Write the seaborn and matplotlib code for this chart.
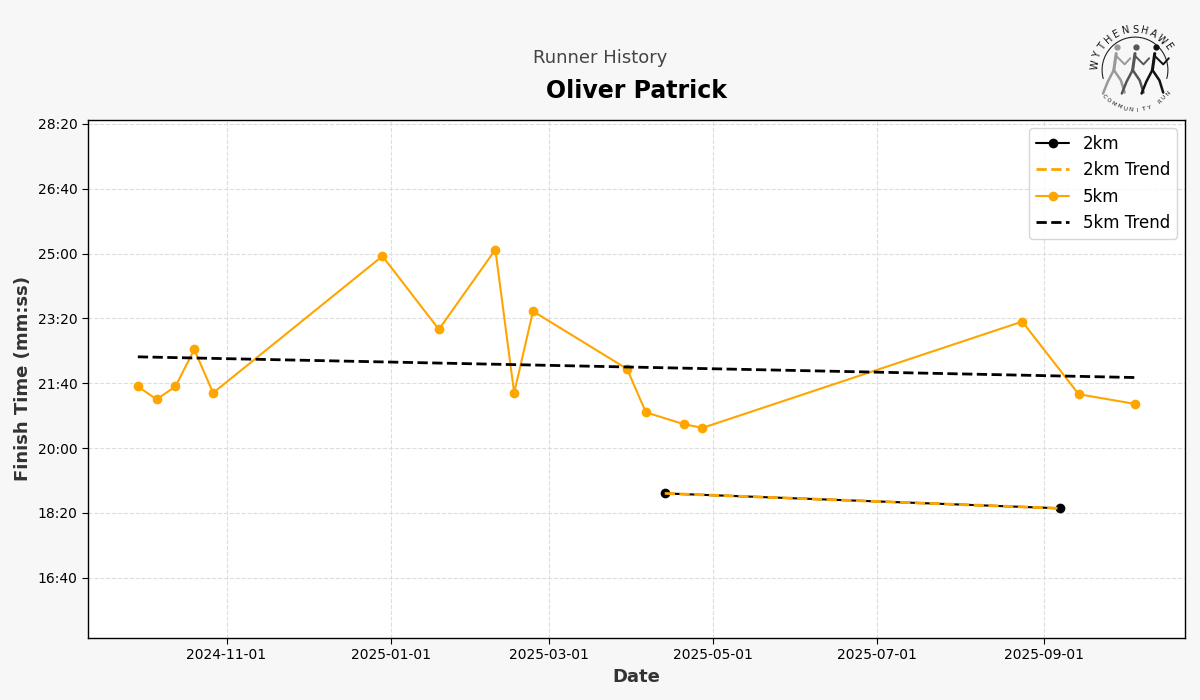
import numpy as np
import pandas as pd
import matplotlib
matplotlib.use("Agg")
import matplotlib.pyplot as plt
import matplotlib.dates as mdates
from matplotlib.ticker import MultipleLocator, FuncFormatter
import seaborn as sns

# ---- data ----
dates_5k = ["2024-09-29", "2024-10-06", "2024-10-13", "2024-10-20", "2024-10-27",
            "2024-12-29", "2025-01-19", "2025-02-09", "2025-02-16", "2025-02-23",
            "2025-03-30", "2025-04-06", "2025-04-20", "2025-04-27", "2025-08-24",
            "2025-09-14", "2025-10-05"]
times_5k = [1295, 1275, 1295, 1352, 1285,
            1496, 1383, 1506, 1285, 1411,
            1322, 1255, 1237, 1231, 1395,
            1283, 1268]
dates_2k = ["2025-04-13", "2025-09-07"]
times_2k = [1130, 1107]

runner_name = "Oliver Patrick"

sns.set_style("white")
plt.rcParams['font.family'] = ['DejaVu Sans']

df5 = pd.DataFrame({"date": pd.to_datetime(dates_5k), "time": times_5k})
df2 = pd.DataFrame({"date": pd.to_datetime(dates_2k), "time": times_2k})

def trend(df):
    x = mdates.date2num(df["date"])
    c = np.polyfit(x, df["time"], 1)
    return pd.DataFrame({"date": df["date"], "time": np.polyval(c, x)})

t2 = trend(df2)
t5 = trend(df5)

fig, ax = plt.subplots(figsize=(12, 7), dpi=100)
fig.patch.set_facecolor("#f7f7f7")
ax.set_facecolor("white")
fig.subplots_adjust(left=0.0733, right=0.9875, top=0.8286, bottom=0.0886)

sns.lineplot(data=df2, x="date", y="time", ax=ax, color="black", marker="o",
             markersize=7, markeredgewidth=0, linewidth=1.5, label="2km")
sns.lineplot(data=t2, x="date", y="time", ax=ax, color="orange", linestyle="--",
             linewidth=2, label="2km Trend")
sns.lineplot(data=df5, x="date", y="time", ax=ax, color="orange", marker="o",
             markersize=7, markeredgewidth=0, linewidth=1.5, label="5km")
sns.lineplot(data=t5, x="date", y="time", ax=ax, color="black", linestyle="--",
             linewidth=2, label="5km Trend")

allt = times_5k + times_2k
ax.set_ylim(min(allt) - 200, max(allt) + 200)
ax.yaxis.set_major_locator(MultipleLocator(100))
ax.yaxis.set_major_formatter(FuncFormatter(lambda v, p: f"{int(v)//60}:{int(v)%60:02d}"))
ax.xaxis.set_major_locator(mdates.MonthLocator(bymonth=[1, 3, 5, 7, 9, 11]))
ax.xaxis.set_major_formatter(mdates.DateFormatter("%Y-%m-%d"))
ax.tick_params(axis="both", labelsize=10, length=4, width=0.8, colors="black", left=True, bottom=True)
for s in ax.spines.values():
    s.set_color("black")
    s.set_linewidth(1)
ax.grid(True, linestyle="--", color="#dddddd", linewidth=0.8)

ax.set_xlabel("Date", fontsize=13, fontweight="bold", color="#333333")
ax.set_ylabel("Finish Time (mm:ss)", fontsize=13, fontweight="bold", color="#333333")
ax.set_title(runner_name, fontsize=17, fontweight="bold", pad=16, color="black")
fig.text(0.5, 0.917, "Runner History", ha="center", va="center", fontsize=13, color="#444444")

leg = ax.legend(loc="upper right", fontsize=12, frameon=True)
leg.get_frame().set_edgecolor("#cccccc")
for t in leg.get_texts():
    t.set_color("black")

# ---- logo approximation ----
lax = fig.add_axes([1088/1200, 1 - 120/700, 94/1200, 100/700])
lax.set_xlim(-1, 1); lax.set_ylim(-1.06, 1.06)
lax.set_aspect("equal"); lax.axis("off")
th = np.linspace(np.deg2rad(195), np.deg2rad(-15), 80)
lax.plot(0.70*np.cos(th), 0.70*np.sin(th), color="#222222", lw=0.8)
txt = "WYTHENSHAWE"
angs = np.linspace(172, 35, len(txt))
for ch, a in zip(txt, angs):
    r = 0.86
    lax.text(r*np.cos(np.deg2rad(a)), r*np.sin(np.deg2rad(a)), ch, ha="center", va="center",
             rotation=a-90, fontsize=7, color="#111111")
txt2 = "COMMUNITY RUN"
angs2 = np.linspace(-140, -35, len(txt2))
for ch, a in zip(txt2, angs2):
    r = 0.86
    lax.text(r*np.cos(np.deg2rad(a)), r*np.sin(np.deg2rad(a)), ch, ha="center", va="center",
             rotation=a+90, fontsize=4, color="#111111")
# simple runner silhouettes
for dx, col in [(-0.4, "#999999"), (0.0, "#555555"), (0.42, "#111111")]:
    lax.plot([dx, dx-0.05], [0.35, 0.0], color=col, lw=2.2)
    lax.plot([dx-0.05, dx-0.18, dx-0.28], [0.0, -0.25, -0.5], color=col, lw=1.8)
    lax.plot([dx-0.05, dx+0.1, dx+0.18], [0.0, -0.22, -0.48], color=col, lw=1.8)
    lax.plot([dx, dx+0.18, dx+0.3], [0.3, 0.12, 0.25], color=col, lw=1.4)
    lax.plot(dx+0.02, 0.5, "o", color=col, ms=3.5)

fig.savefig("out.png", dpi=100, facecolor=fig.get_facecolor())
